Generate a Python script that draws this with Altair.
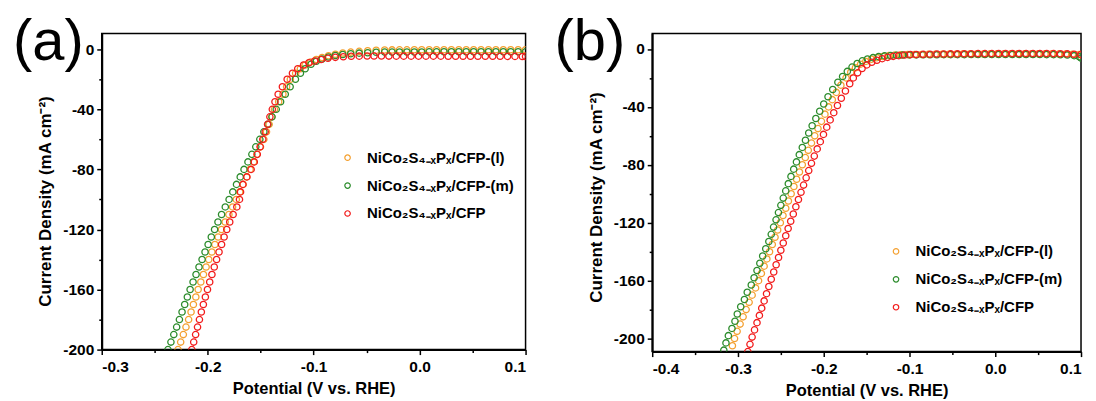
import altair as alt
import pandas as pd

NAMES = ["NiCo₂S₄₋ₓPₓ/CFP-(l)", "NiCo₂S₄₋ₓPₓ/CFP-(m)", "NiCo₂S₄₋ₓPₓ/CFP"]
COLORS = ["#F4A030", "#2C8C2C", "#F21C1C"]

# ---------------- panel (a) ----------------
A_L_X = [-0.2280, -0.2255, -0.2230, -0.2205, -0.2180, -0.2157, -0.2135, -0.2112, -0.2090, -0.2065,
         -0.2040, -0.2015, -0.1990, -0.1961, -0.1932, -0.1901, -0.1870, -0.1835, -0.1800, -0.1765,
         -0.1730, -0.1698, -0.1665, -0.1632, -0.1600, -0.1567, -0.1535, -0.1502, -0.1470, -0.1445,
         -0.1420, -0.1395, -0.1370, -0.1330, -0.1290, -0.1255, -0.1220,
         -0.1170, -0.1125, -0.1080, -0.1030, -0.0975, -0.0920, -0.0860, -0.0795, -0.0725, -0.0650,
         -0.0570, -0.0490, -0.0410,
         -0.033, -0.026, -0.019, -0.012, -0.005, 0.002, 0.009, 0.016, 0.023, 0.030,
         0.037, 0.044, 0.051, 0.058, 0.065, 0.072, 0.079, 0.086, 0.093, 0.100]
A_L_Y = [-200, -195, -190, -185, -180, -175, -170, -165, -160, -155,
         -150, -145, -140, -135, -130, -125, -120, -115, -110, -105,
         -100, -95, -90, -85, -80, -75, -70, -65, -60, -55,
         -50, -45, -40, -35, -30, -25, -20,
         -16, -13, -10.5, -8.5, -6.8, -5.5, -4.3, -3.3, -2.5, -1.9,
         -1.4, -1.0, -0.7,
         -0.5, -0.45, -0.4, -0.4, -0.35, -0.35, -0.3, -0.3, -0.3, -0.3,
         -0.3, -0.3, -0.3, -0.3, -0.3, -0.3, -0.3, -0.3, -0.3, -0.3]

A_M_X = [-0.2375, -0.2347, -0.2320, -0.2293, -0.2267, -0.2242, -0.2217, -0.2192, -0.2166, -0.2138,
         -0.2110, -0.2082, -0.2053, -0.2025, -0.1996, -0.1966, -0.1935, -0.1903, -0.1869, -0.1834,
         -0.1798, -0.1763, -0.1728, -0.1693, -0.1657, -0.1620, -0.1583, -0.1546, -0.1508, -0.1470,
         -0.1432, -0.1393, -0.1353, -0.1312, -0.1268, -0.1222, -0.1172,
         -0.1125, -0.1080, -0.1025, -0.0975, -0.0920, -0.0860, -0.0795, -0.0725, -0.0650, -0.0570,
         -0.0490, -0.0410,
         -0.033, -0.026, -0.019, -0.012, -0.005, 0.002, 0.009, 0.016, 0.023, 0.030,
         0.037, 0.044, 0.051, 0.058, 0.065, 0.072, 0.079, 0.086, 0.093, 0.100]
A_M_Y = [-200, -195, -190, -185, -180, -175, -170, -165, -160, -155,
         -150, -145, -140, -135, -130, -125, -120, -115, -110, -105,
         -100, -95, -90, -85, -80, -75, -70, -65, -60, -55,
         -50, -45, -40, -35, -30, -25, -20,
         -16, -13, -10, -8, -6.5, -5.2, -4.2, -3.5, -3.0, -2.6,
         -2.3, -2.0,
         -1.9, -1.9, -1.85, -1.8, -1.8, -1.8, -1.75, -1.75, -1.7, -1.7,
         -1.7, -1.7, -1.7, -1.7, -1.7, -1.7, -1.7, -1.7, -1.7, -1.75]

A_C_X = [-0.2150, -0.2132, -0.2114, -0.2096, -0.2078, -0.2060, -0.2041, -0.2022, -0.2002, -0.1981,
         -0.1960, -0.1938, -0.1916, -0.1893, -0.1869, -0.1845, -0.1820, -0.1792, -0.1760, -0.1725,
         -0.1700, -0.1690, -0.1668, -0.1630, -0.1590, -0.1560, -0.1532, -0.1505, -0.1480, -0.1457,
         -0.1435, -0.1413, -0.1390, -0.1365, -0.1335, -0.1295, -0.1250,
         -0.1200, -0.1150, -0.1095, -0.1045, -0.0990, -0.0930, -0.0865, -0.0795, -0.0720, -0.0645,
         -0.0570, -0.0495,
         -0.043, -0.036, -0.029, -0.022, -0.015, -0.008, -0.001, 0.006, 0.013, 0.020,
         0.027, 0.034, 0.041, 0.048, 0.055, 0.062, 0.069, 0.076, 0.083, 0.090, 0.097, 0.100]
A_C_Y = [-200, -195, -190, -185, -180, -175, -170, -165, -160, -155,
         -150, -145, -140, -135, -130, -125, -120, -115, -110, -105,
         -100, -95, -90, -85, -80, -75, -70, -65, -60, -55,
         -50, -45, -40, -35, -30, -25, -20,
         -16, -13, -10.5, -9, -7.8, -6.8, -6.0, -5.4, -5.0, -4.7,
         -4.6, -4.5,
         -4.5, -4.5, -4.55, -4.6, -4.6, -4.6, -4.6, -4.6, -4.6, -4.6,
         -4.65, -4.65, -4.65, -4.7, -4.7, -4.7, -4.7, -4.7, -4.75, -4.75, -4.8, -4.8]

# ---------------- panel (b) ----------------
B_L_X = [-0.3065, -0.3040, -0.3010, -0.2975, -0.2940, -0.2905, -0.2870, -0.2835, -0.2795, -0.2760,
         -0.2727, -0.2695, -0.2663, -0.2632, -0.2600, -0.2568, -0.2537, -0.2506, -0.2475, -0.2443,
         -0.2412, -0.2380, -0.2348, -0.2316, -0.2283, -0.2250, -0.2215, -0.2180, -0.2143, -0.2105,
         -0.2067, -0.2027, -0.1986, -0.1944, -0.1900, -0.1853, -0.1800, -0.1740,
         -0.1685, -0.1630, -0.1570, -0.1510, -0.1445, -0.1380, -0.1310, -0.1240, -0.1170, -0.1100,
         -0.102, -0.094, -0.086, -0.078, -0.070, -0.062, -0.054, -0.046, -0.038, -0.030,
         -0.022, -0.014, -0.006, 0.002, 0.010, 0.018, 0.026, 0.034, 0.042, 0.050,
         0.058, 0.066, 0.074, 0.082, 0.090, 0.098, 0.100]
B_L_Y = [-205, -200, -195, -190, -185, -180, -175, -170, -165, -160,
         -155, -150, -145, -140, -135, -130, -125, -120, -115, -110,
         -105, -100, -95, -90, -85, -80, -75, -70, -65, -60,
         -55, -50, -45, -40, -35, -30, -25, -20,
         -16, -13, -10.5, -8.6, -7.1, -6.0, -5.2, -4.6, -4.2, -4.0,
         -3.9, -3.8, -3.8, -3.7, -3.7, -3.6, -3.6, -3.6, -3.5, -3.5,
         -3.5, -3.5, -3.4, -3.4, -3.4, -3.4, -3.4, -3.4, -3.4, -3.4,
         -3.4, -3.4, -3.5, -3.5, -3.6, -3.8, -3.9]

B_M_X = [-0.3165, -0.3140, -0.3112, -0.3070, -0.3035, -0.3008, -0.2968, -0.2925, -0.2892, -0.2845,
         -0.2812, -0.2778, -0.2745, -0.2712, -0.2676, -0.2640, -0.2612, -0.2585, -0.2556, -0.2528,
         -0.2500, -0.2472, -0.2443, -0.2413, -0.2382, -0.2350, -0.2318, -0.2285, -0.2250, -0.2213,
         -0.2175, -0.2135, -0.2092, -0.2047, -0.2000, -0.1950, -0.1895, -0.1835, -0.1780, -0.1725,
         -0.1670, -0.1610, -0.1550, -0.1490, -0.1425, -0.1360, -0.1290, -0.1220, -0.1150,
         -0.108, -0.100, -0.092, -0.084, -0.076, -0.068, -0.060, -0.052, -0.044, -0.036,
         -0.028, -0.020, -0.012, -0.004, 0.004, 0.012, 0.020, 0.028, 0.036, 0.044,
         0.052, 0.060, 0.068, 0.076, 0.084, 0.092, 0.098, 0.100]
B_M_Y = [-208, -203, -198, -193, -188, -183, -178, -173, -168, -163,
         -158, -153, -148, -143, -138, -133, -128, -123, -118, -113,
         -108, -103, -98, -93, -88, -83, -78, -73, -68, -63,
         -58, -53, -48, -43, -38, -33, -28, -23, -19, -15.5,
         -12.5, -10, -8.2, -6.9, -6.0, -5.3, -4.8, -4.5, -4.3,
         -4.2, -4.1, -4.1, -4.0, -4.0, -4.0, -3.9, -3.9, -3.9, -3.9,
         -3.8, -3.8, -3.8, -3.8, -3.8, -3.8, -3.8, -3.8, -3.8, -3.8,
         -3.8, -3.9, -3.9, -4.0, -4.2, -4.6, -5.4, -6.2]

B_C_X = [-0.2885, -0.2860, -0.2835, -0.2807, -0.2778, -0.2750, -0.2723, -0.2695, -0.2667, -0.2640,
         -0.2612, -0.2583, -0.2555, -0.2527, -0.2500, -0.2472, -0.2443, -0.2415, -0.2385, -0.2355,
         -0.2325, -0.2295, -0.2265, -0.2235, -0.2205, -0.2175, -0.2143, -0.2110, -0.2076, -0.2040,
         -0.2003, -0.1965, -0.1925, -0.1883, -0.1840, -0.1795, -0.1747, -0.1697,
         -0.1655, -0.1605, -0.1553, -0.1498, -0.1440, -0.1380, -0.1318, -0.1255, -0.1190, -0.1125,
         -0.1058, -0.0990,
         -0.092, -0.084, -0.076, -0.068, -0.060, -0.052, -0.044, -0.036, -0.028, -0.020,
         -0.012, -0.004, 0.004, 0.012, 0.020, 0.028, 0.036, 0.044, 0.052, 0.060,
         0.068, 0.076, 0.084, 0.092, 0.100]
B_C_Y = [-209, -204, -199, -194, -189, -184, -179, -174, -169, -164,
         -159, -154, -149, -144, -139, -134, -129, -124, -119, -114,
         -109, -104, -99, -94, -89, -84, -79, -74, -69, -64,
         -59, -54, -49, -44, -39, -34, -29, -24,
         -20, -16.5, -13.5, -11, -9.2, -7.8, -6.7, -5.8, -5.1, -4.6,
         -4.2, -3.9,
         -3.8, -3.7, -3.6, -3.5, -3.5, -3.4, -3.4, -3.3, -3.3, -3.2,
         -3.2, -3.2, -3.1, -3.1, -3.1, -3.1, -3.1, -3.1, -3.1, -3.1,
         -3.2, -3.3, -3.4, -3.6, -3.9]

A_XTICKS = [-0.3, -0.25, -0.2, -0.15, -0.1, -0.05, 0.0, 0.05, 0.1]
B_XTICKS = [-0.4, -0.35, -0.3, -0.25, -0.2, -0.15, -0.1, -0.05, 0.0, 0.05, 0.1]
A_YTICKS = [0, -20, -40, -60, -80, -100, -120, -140, -160, -180, -200]
B_YTICKS = [0, -20, -40, -60, -80, -100, -120, -140, -160, -180, -200]

MINUS = "\u2212"
X_MAJOR = "abs(round(datum.value*1000)) % 100 == 0"
Y_MAJOR = "datum.value % 40 == 0"
X_LABEL = f"{X_MAJOR} ? replace(format(datum.value, '.1f'), '{MINUS}', '-') : ''"
Y_LABEL = f"{Y_MAJOR} ? replace(format(datum.value, 'd'), '{MINUS}', '-') : ''"
FONT = "Liberation Sans"


def panel(series, xdom, ydom, xticks, yticks, w, h, tag, tag_x, tag_y, legx, legy, ytitle_y):
    rows = []
    for name, xs, ys in series:
        assert len(xs) == len(ys), (name, len(xs), len(ys))
        rows += [{"s": name, "p": x, "j": y} for x, y in zip(xs, ys)]
    df = pd.DataFrame(rows)
    pts = alt.Chart(df).mark_point(
        shape="circle", filled=False, size=40, strokeWidth=1.3, opacity=1, clip=True
    ).encode(
        x=alt.X("p:Q", scale=alt.Scale(domain=xdom, nice=False, zero=False),
                axis=alt.Axis(values=xticks, labelExpr=X_LABEL, title="Potential (V vs. RHE)",
                              tickSize={"condition": {"test": X_MAJOR, "value": 5}, "value": 3})),
        y=alt.Y("j:Q", scale=alt.Scale(domain=ydom, nice=False, zero=False),
                axis=alt.Axis(values=yticks, labelExpr=Y_LABEL, title="Current Density (mA cm⁻²)",
                              titleY=ytitle_y,
                              tickSize={"condition": {"test": Y_MAJOR, "value": 5}, "value": 3})),
        color=alt.Color("s:N", sort=NAMES,
                        scale=alt.Scale(domain=NAMES, range=COLORS),
                        legend=alt.Legend(orient="none", legendX=legx, legendY=legy, title=None,
                                          padding=0, symbolType="circle", symbolSize=30,
                                          symbolStrokeWidth=1.2, labelFont=FONT,
                                          labelFontWeight="bold", labelFontSize=15,
                                          labelColor="black", labelOffset=12, rowPadding=12,
                                          labelLimit=0)),
    )
    txt = alt.Chart(pd.DataFrame({"t": [tag]})).mark_text(
        font=FONT, fontSize=58, align="left", baseline="alphabetic", color="black"
    ).encode(x=alt.value(tag_x), y=alt.value(tag_y), text="t:N")
    return alt.layer(pts, txt).properties(width=w, height=h)


pa = panel([(NAMES[0], A_L_X, A_L_Y), (NAMES[1], A_M_X, A_M_Y), (NAMES[2], A_C_X, A_C_Y)],
           [-0.3, 0.1], [-200, 10.5], A_XTICKS, A_YTICKS, 425, 317,
           "(a)", -89, 27, 239, 117, 168)
pb = panel([(NAMES[0], B_L_X, B_L_Y), (NAMES[1], B_M_X, B_M_Y), (NAMES[2], B_C_X, B_C_Y)],
           [-0.4, 0.1], [-209, 10.7], B_XTICKS, B_YTICKS, 430, 319,
           "(b)", -98, 27, 237, 211, 164)

chart = alt.hconcat(pa, pb, spacing=26).resolve_scale(color="independent").configure(
    padding={"left": 4, "top": 5, "right": 5, "bottom": 5}
).configure_view(stroke="black", strokeWidth=1.5).configure_axis(
    domainColor="black", domainWidth=2, tickColor="black", tickWidth=1.5,
    labelFont=FONT, labelFontWeight="bold", labelFontSize=15.5, labelColor="black",
    labelPadding=3, titleFont=FONT, titleFontWeight="bold",
    titleColor="black", grid=False
).configure_axisX(titlePadding=6, labelPadding=5, titleFontSize=16.5).configure_axisY(
    titlePadding=8, titleFontSize=17)

chart.save("out.html", embed_options={"renderer": "svg", "actions": False})
